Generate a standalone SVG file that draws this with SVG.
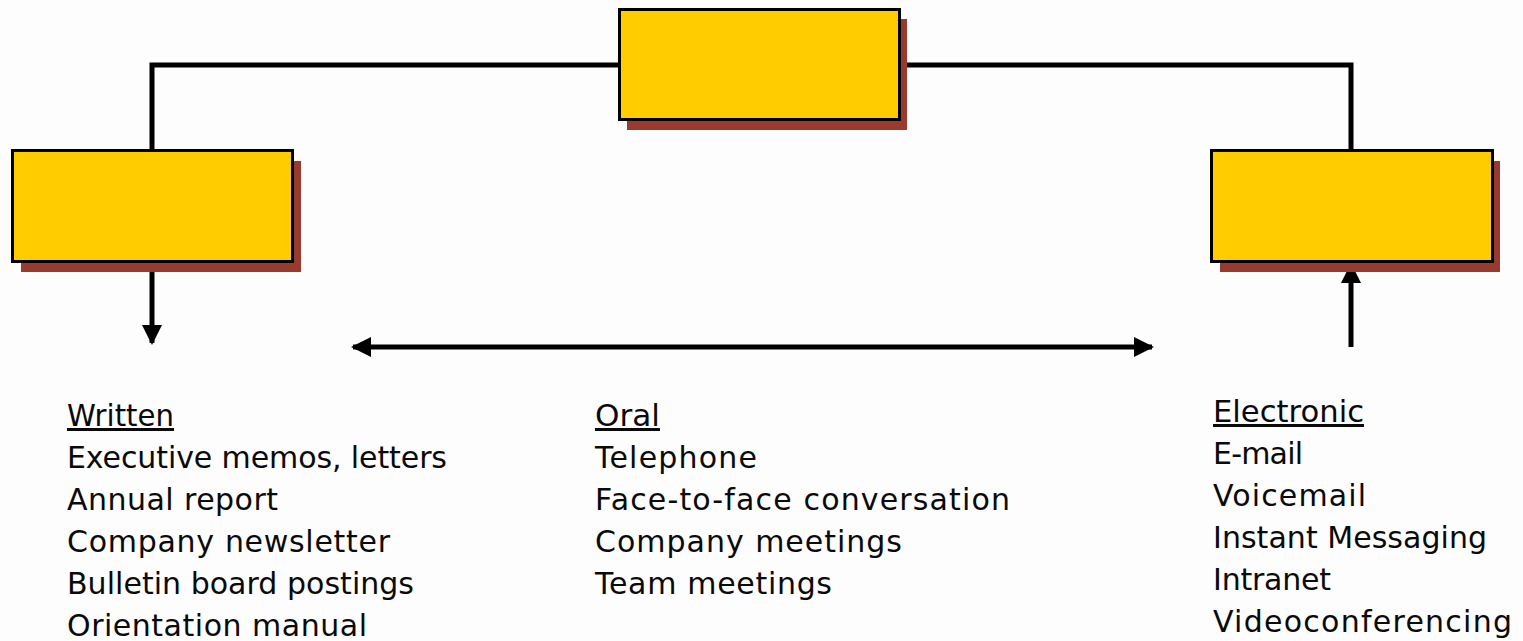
<svg xmlns="http://www.w3.org/2000/svg" width="1523" height="641" viewBox="0 0 1523 641">
<style>
.shadow{fill:#983a2e}
.box{fill:#ffcc00;stroke:#000;stroke-width:3}
.conn{stroke:#000;stroke-width:5;fill:none}
.t{font-family:"DejaVu Sans",sans-serif;font-size:30px;fill:#0a0a0a}
.h{text-decoration:underline}
</style>
<defs>
<marker id="ah" viewBox="0 0 10 10" refX="9" refY="5" markerWidth="4" markerHeight="4" orient="auto-start-reverse" markerUnits="strokeWidth">
<path d="M0,0 L10,5 L0,10 Z" fill="#000"/>
</marker>
</defs>
<rect width="1523" height="641" fill="#fdfdfd"/>
<g id="connectors">
<path class="conn" d="M152,150 V65 H1351 V150"/>
<path class="conn" d="M152,262 V343" marker-end="url(#ah)"/>
<path class="conn" d="M1351,347 V265" marker-end="url(#ah)"/>
<path class="conn" d="M353,347 H1152" marker-start="url(#ah)" marker-end="url(#ah)"/>
</g>
<g id="top-box">
<rect class="shadow" x="627" y="19" width="280" height="111"/>
<rect class="box" x="619.5" y="9.5" width="280" height="110"/>
</g>
<g id="left-box">
<rect class="shadow" x="21" y="161" width="280" height="111"/>
<rect class="box" x="12.5" y="150.5" width="280" height="111"/>
</g>
<g id="right-box">
<rect class="shadow" x="1220" y="161" width="280" height="111"/>
<rect class="box" x="1211.5" y="150.5" width="281" height="111"/>
</g>
<g id="written">
<text class="t h" x="67" y="426" textLength="107" lengthAdjust="spacingAndGlyphs">Written</text>
<text class="t" x="67" y="468" textLength="380">Executive memos, letters</text>
<text class="t" x="67" y="510" textLength="211">Annual report</text>
<text class="t" x="67" y="552" textLength="323">Company newsletter</text>
<text class="t" x="67" y="594" textLength="347">Bulletin board postings</text>
<text class="t" x="67" y="636" textLength="300">Orientation manual</text>
</g>
<g id="oral">
<text class="t h" x="595" y="426" textLength="65" lengthAdjust="spacingAndGlyphs">Oral</text>
<text class="t" x="595" y="468" textLength="162">Telephone</text>
<text class="t" x="595" y="510" textLength="415">Face-to-face conversation</text>
<text class="t" x="595" y="552" textLength="307">Company meetings</text>
<text class="t" x="595" y="594" textLength="237">Team meetings</text>
</g>
<g id="electronic">
<text class="t h" x="1213" y="422" textLength="151" lengthAdjust="spacingAndGlyphs">Electronic</text>
<text class="t" x="1213" y="464" textLength="90">E-mail</text>
<text class="t" x="1213" y="506" textLength="153">Voicemail</text>
<text class="t" x="1213" y="548" textLength="274">Instant Messaging</text>
<text class="t" x="1213" y="590" textLength="118">Intranet</text>
<text class="t" x="1213" y="632" textLength="299">Videoconferencing</text>
</g>
</svg>
